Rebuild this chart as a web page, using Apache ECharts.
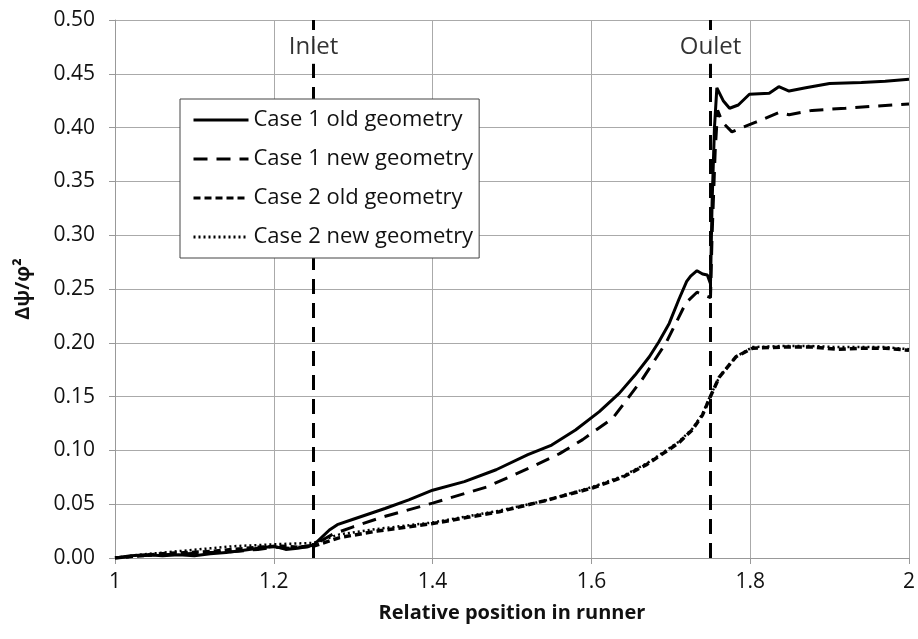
<!DOCTYPE html>
<html><head><meta charset="utf-8">
<script src="https://cdn.jsdelivr.net/npm/echarts@6/dist/echarts.min.js"></script>
<style>html,body{margin:0;padding:0;background:#fff}#c{width:918px;height:639px}</style>
</head><body><div id="c"></div>
<script>
const seriesNames = ['Case 1 old geometry','Case 1 new geometry','Case 2 old geometry','Case 2 new geometry'];
const case1Old = [[1.000,0.000],[1.02,0.002],[1.04,0.003],[1.06,0.002],[1.08,0.003],[1.10,0.002],[1.12,0.004],[1.14,0.005],[1.16,0.007],[1.18,0.009],[1.20,0.011],[1.215,0.008],[1.23,0.009],[1.245,0.011],[1.25,0.012],[1.26,0.019],[1.27,0.026],[1.28,0.031],[1.30,0.036],[1.34,0.046],[1.37,0.054],[1.40,0.063],[1.44,0.071],[1.48,0.082],[1.52,0.096],[1.55,0.105],[1.58,0.119],[1.61,0.136],[1.635,0.153],[1.655,0.170],[1.673,0.187],[1.685,0.201],[1.698,0.218],[1.71,0.240],[1.72,0.257],[1.725,0.262],[1.733,0.267],[1.74,0.264],[1.746,0.263],[1.750,0.255],[1.752,0.33],[1.755,0.40],[1.758,0.437],[1.766,0.425],[1.774,0.418],[1.785,0.421],[1.799,0.431],[1.824,0.432],[1.836,0.438],[1.849,0.434],[1.87,0.437],[1.90,0.441],[1.94,0.442],[1.97,0.443],[2.00,0.445]];
const case1New = [[1.0,0],[1.03,0.002],[1.06,0.003],[1.09,0.004],[1.12,0.005],[1.15,0.006],[1.18,0.008],[1.20,0.010],[1.22,0.009],[1.25,0.012],[1.274,0.022],[1.30,0.029],[1.337,0.038],[1.40,0.051],[1.468,0.066],[1.526,0.085],[1.56,0.097],[1.589,0.110],[1.627,0.130],[1.664,0.166],[1.694,0.200],[1.719,0.237],[1.733,0.247],[1.75,0.242],[1.752,0.30],[1.756,0.38],[1.759,0.416],[1.765,0.405],[1.777,0.396],[1.79,0.400],[1.807,0.405],[1.836,0.414],[1.849,0.412],[1.878,0.416],[1.92,0.418],[1.96,0.420],[2.0,0.422]];
const case2Old = [[1.0,0],[1.03,0.002],[1.06,0.004],[1.09,0.005],[1.12,0.006],[1.15,0.008],[1.18,0.010],[1.21,0.011],[1.23,0.010],[1.25,0.011],[1.283,0.019],[1.33,0.025],[1.40,0.032],[1.484,0.043],[1.54,0.053],[1.601,0.065],[1.639,0.075],[1.67,0.087],[1.69,0.097],[1.71,0.107],[1.727,0.119],[1.74,0.133],[1.748,0.147],[1.761,0.168],[1.782,0.187],[1.803,0.195],[1.84,0.196],[1.878,0.196],[1.91,0.194],[1.94,0.195],[1.97,0.195],[2.0,0.193]];
const case2New = [[1.0,0],[1.03,0.003],[1.06,0.005],[1.09,0.007],[1.12,0.009],[1.15,0.011],[1.18,0.012],[1.21,0.013],[1.25,0.014],[1.283,0.022],[1.33,0.027],[1.40,0.033],[1.484,0.044],[1.54,0.053],[1.601,0.066],[1.639,0.076],[1.67,0.088],[1.69,0.098],[1.71,0.108],[1.727,0.120],[1.74,0.134],[1.748,0.148],[1.761,0.168],[1.782,0.187],[1.803,0.196],[1.84,0.197],[1.878,0.197],[1.91,0.196],[1.94,0.196],[1.97,0.196],[2.0,0.194]];
const markerX = [1.25, 1.75];
const markerLabels = ['Inlet', 'Oulet'];
const markerLabelY = 0.475;
const xTitle = 'Relative position in runner';
const yTitle = 'Δψ/φ²';

const FONT = 'Open Sans';
const chart = echarts.init(document.getElementById('c'), null, {renderer:'canvas'});
const styles = [
  {type:'solid', width:3},
  {type:[14,9], width:3},
  {type:[7,4], width:3.5},
  {type:[2,3], width:2.5}
];
const dataSets = [case1Old, case1New, case2Old, case2New];
const lineSeries = dataSets.map((d,i)=>({
  name: seriesNames[i], type:'line', data:d, symbol:'none', showSymbol:false,
  lineStyle:{color:'#000', width:styles[i].width, type:styles[i].type},
  itemStyle:{color:'#000'}, z:3, animation:false
}));
lineSeries.push({
  name:'markers', type:'line', data:[], symbol:'none', z:2, animation:false,
  markLine:{symbol:'none', silent:true, animation:false, z:2, label:{show:false},
    lineStyle:{color:'#000', width:3, type:[15,9]},
    data: markerX.map(x=>({xAxis:x}))}
});
lineSeries.push({
  name:'markerLabels', type:'scatter', symbolSize:0, z:10, animation:false,
  data: markerX.map((x,i)=>({value:[x, markerLabelY], name:markerLabels[i]})),
  label:{show:true, position:'inside', formatter:p=>p.name, color:'#000',
    fontFamily:FONT, fontSize:24, backgroundColor:'#fff', padding:[5,3,5,3]}
});
chart.setOption({
  backgroundColor:'#fff',
  animation:false,
  grid:{left:115, right:8, top:20, bottom:81},
  legend:{
    data:seriesNames, orient:'vertical', left:180, top:99, z:20,
    backgroundColor:'#fff', borderColor:'#444', borderWidth:1,
    padding:[10,6,10,12], itemWidth:55, itemHeight:22, itemGap:17,
    itemStyle:{color:'rgba(0,0,0,0)', borderWidth:0, opacity:0},
    lineStyle:{width:3},
    textStyle:{fontFamily:FONT, fontSize:22, color:'#111', lineHeight:22}
  },
  xAxis:{
    type:'value', min:1, max:2, interval:0.2,
    name:xTitle, nameLocation:'middle', nameGap:45,
    nameTextStyle:{fontFamily:FONT, fontSize:20, fontWeight:'bold', color:'#111'},
    axisLine:{show:true, lineStyle:{color:'#999', width:1}},
    axisTick:{show:true, length:6, lineStyle:{color:'#999'}},
    axisLabel:{fontFamily:FONT, fontSize:21, color:'#111', margin:14},
    splitLine:{show:true, lineStyle:{color:'#aaa', width:1}}
  },
  yAxis:{
    type:'value', min:0, max:0.5, interval:0.05,
    name:yTitle, nameLocation:'middle', nameGap:82, nameRotate:90,
    nameTextStyle:{fontFamily:FONT, fontSize:20, fontWeight:'bold', color:'#111'},
    axisLine:{show:true, lineStyle:{color:'#999', width:1}},
    axisTick:{show:true, length:6, lineStyle:{color:'#999'}},
    axisLabel:{fontFamily:FONT, fontSize:21, color:'#111', margin:20, formatter:v=>v.toFixed(2)},
    splitLine:{show:true, lineStyle:{color:'#aaa', width:1}}
  },
  series: lineSeries
});
</script></body></html>
